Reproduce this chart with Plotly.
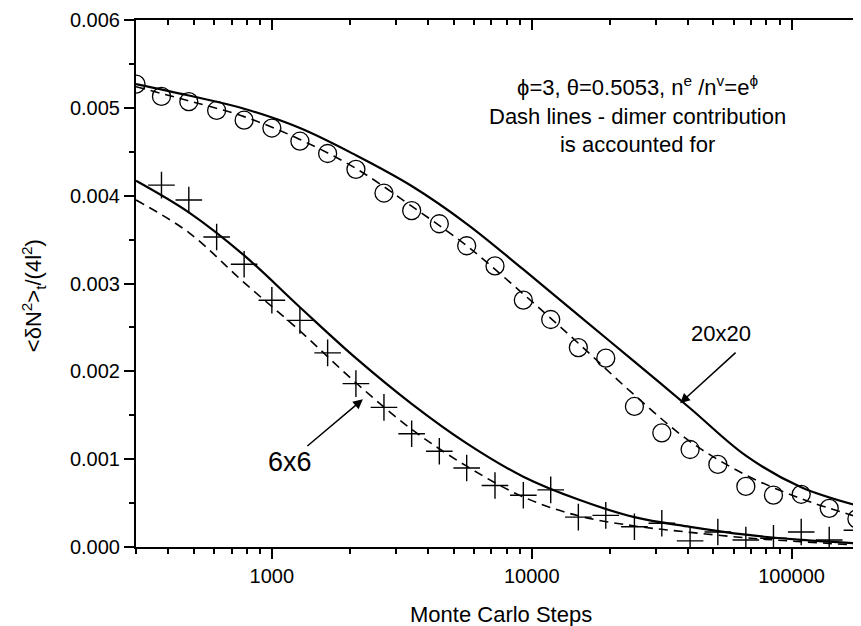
import math
import plotly.graph_objects as go

# ---- data ----
steps_circles = [300, 376, 479, 613, 782, 1000, 1282, 1639, 2106, 2700, 3451, 4410, 5620,
                 7222, 9283, 11833, 15116, 19275, 24843, 31667, 40690, 52030, 66680, 85180,
                 108900, 139600, 178400]
mc_20x20 = [0.00527, 0.00513, 0.00507, 0.00497, 0.00486, 0.00477, 0.00462, 0.00448, 0.00430,
            0.00403, 0.00383, 0.00368, 0.00343, 0.00320, 0.00281, 0.00259, 0.00227, 0.00215,
            0.00160, 0.00130, 0.00111, 0.00094, 0.00069, 0.00059, 0.00060, 0.00044, 0.00032]

steps_crosses = [376, 479, 613, 782, 1000, 1282, 1639, 2106, 2700, 3451, 4410, 5620,
                 7222, 9283, 11833, 15116, 19275, 24843, 31667, 40690, 52030, 66680, 85180,
                 108900, 139600, 178400]
mc_6x6 = [0.00412, 0.00395, 0.00353, 0.00322, 0.00281, 0.00258, 0.00221, 0.00186, 0.00159,
          0.00129, 0.00109, 0.00090, 0.00070, 0.00059, 0.00065, 0.00034, 0.00036, 0.00023,
          0.00027, 0.00007, 0.00017, 0.00008, 0.00010, 0.00017, 0.00008, 0.00019]

curve_x = [300, 479, 782, 1282, 2106, 3451, 5620, 9283, 15116, 24843, 40690, 66680, 108900, 185000]
solid20_y = [0.00527, 0.00514, 0.00499, 0.00477, 0.00446, 0.00411, 0.00368, 0.00316, 0.00264,
             0.00211, 0.00158, 0.00104, 0.00068, 0.00046]
dash20_y = [0.00524, 0.00508, 0.00490, 0.00464, 0.00431, 0.00388, 0.00343, 0.00288, 0.00232,
            0.00173, 0.00120, 0.00082, 0.00055, 0.00033]
solid6_y = [0.00417, 0.00381, 0.00332, 0.00273, 0.00215, 0.00163, 0.00118, 0.00080, 0.00054,
            0.00034, 0.00023, 0.00014, 0.00008, 0.00004]
dash6_y = [0.00395, 0.00358, 0.00301, 0.00246, 0.00187, 0.00134, 0.00092, 0.00057, 0.000355,
           0.00024, 0.000167, 0.000105, 0.00006, 0.00002]

x_major = [1000, 10000, 100000]
x_major_labels = ["1000", "10000", "100000"]
x_minor = [300, 400, 500, 600, 700, 800, 900, 2000, 3000, 4000, 5000, 6000, 7000, 8000, 9000,
           20000, 30000, 40000, 50000, 60000, 70000, 80000, 90000]
y_major = [0.000, 0.001, 0.002, 0.003, 0.004, 0.005, 0.006]
y_major_labels = ["0.000", "0.001", "0.002", "0.003", "0.004", "0.005", "0.006"]
y_minor = [0.0005, 0.0015, 0.0025, 0.0035, 0.0045, 0.0055]

x_range = [math.log10(300), math.log10(185000)]
y_range = [0, 0.006]

FONT = "Liberation Sans, Arial, sans-serif"

fig = go.Figure()

for ys, style in [(solid20_y, dict(color="black", width=2.2)),
                  (dash20_y, dict(color="black", width=1.6, dash="9px,6px")),
                  (solid6_y, dict(color="black", width=2.2)),
                  (dash6_y, dict(color="black", width=1.6, dash="9px,6px"))]:
    fig.add_trace(go.Scatter(x=curve_x, y=ys, mode="lines", line_shape="spline",
                             line=style, hoverinfo="skip"))

fig.add_trace(go.Scatter(x=steps_circles, y=mc_20x20, mode="markers",
                         marker=dict(symbol="circle-open", size=18, color="black",
                                     line=dict(width=1.3, color="black"))))
fig.add_trace(go.Scatter(x=steps_crosses, y=mc_6x6, mode="markers",
                         marker=dict(symbol="cross-thin-open", size=19, color="black",
                                     line=dict(width=1.4, color="black"))))

# dummy trace so the mirror (top/right) axes are drawn
fig.add_trace(go.Scatter(x=[1000], y=[0.003], xaxis="x2", yaxis="y2", mode="markers",
                         marker=dict(opacity=0), hoverinfo="skip", showlegend=False))

axis_common = dict(showgrid=False, zeroline=False, linecolor="black", tickcolor="black",
                   automargin=False)

# the page body adds an 8px offset, so the figure is 8px smaller to end at the window edge
fig.update_layout(
    template="none",
    width=853, height=618,
    margin=dict(l=128, r=0, t=12, b=79, pad=0),
    plot_bgcolor="white", paper_bgcolor="white",
    showlegend=False,
    font=dict(family=FONT, color="black", size=20),
    xaxis=dict(type="log", range=x_range, tickmode="array", tickvals=x_major,
               ticktext=x_major_labels, ticks="outside", ticklen=10, tickwidth=1.6,
               showline=True, linewidth=2, tickfont=dict(size=20, family=FONT),
               minor=dict(tickmode="array", tickvals=x_minor, ticks="outside", ticklen=5,
                          tickwidth=1.6, tickcolor="black", showgrid=False),
               **axis_common),
    yaxis=dict(range=y_range, tickmode="array", tickvals=y_major, ticktext=y_major_labels,
               ticks="outside", ticklen=10, tickwidth=1.6, showline=True, linewidth=2,
               tickfont=dict(size=20, family=FONT),
               minor=dict(tickmode="array", tickvals=y_minor, ticks="outside", ticklen=5,
                          tickwidth=1.6, tickcolor="black", showgrid=False),
               **axis_common),
    xaxis2=dict(type="log", range=x_range, overlaying="x", side="top", anchor="y",
                tickmode="array", tickvals=x_major, ticks="inside", ticklen=10, tickwidth=1.6,
                showticklabels=False, showline=True, linewidth=2,
                minor=dict(tickmode="array", tickvals=x_minor, ticks="inside", ticklen=5,
                           tickwidth=1.6, tickcolor="black", showgrid=False),
                **axis_common),
    yaxis2=dict(range=y_range, overlaying="y", side="right", anchor="x",
                tickmode="array", tickvals=y_major, ticks="inside", ticklen=4, tickwidth=1.6,
                showticklabels=False, showline=False, **axis_common),
)

# axis titles
fig.add_annotation(xref="paper", yref="paper", x=0.504, y=-0.128, showarrow=False,
                   text="Monte Carlo Steps", font=dict(size=22, family=FONT),
                   xanchor="center", yanchor="middle")
fig.add_annotation(xref="paper", yref="paper", x=-0.142, y=0.476, showarrow=False,
                   text="&lt;δN<sup>2</sup>&gt;<sub>t</sub>/(4l<sup>2</sup>)", textangle=-90,
                   font=dict(size=22, family=FONT), xanchor="center", yanchor="middle")

# inner text block
fig.add_annotation(x=math.log10(25440), y=0.004923, showarrow=False,
                   text="ϕ=3, θ=0.5053, n<sup>e</sup> /n<sup>v</sup>=e<sup>ϕ</sup><br>"
                        "Dash lines - dimer contribution<br>is accounted for",
                   font=dict(size=22, family=FONT), align="center",
                   xanchor="center", yanchor="middle")

# labels
fig.add_annotation(x=math.log10(1173), y=0.000965, showarrow=False, text="6x6",
                   font=dict(size=27, family=FONT), xanchor="center", yanchor="middle")
fig.add_annotation(x=math.log10(53570), y=0.002428, showarrow=False, text="20x20",
                   font=dict(size=22, family=FONT), xanchor="center", yanchor="middle")

# arrows
fig.add_annotation(x=math.log10(2240), y=0.001682, ax=-57, ay=48, text="", showarrow=True,
                   arrowhead=2, arrowsize=1.3, arrowwidth=1.5, arrowcolor="black", standoff=0)
fig.add_annotation(x=math.log10(37240), y=0.001637, ax=57, ay=-52, text="", showarrow=True,
                   arrowhead=2, arrowsize=1.3, arrowwidth=1.5, arrowcolor="black", standoff=0)

fig.write_html("out.html")
